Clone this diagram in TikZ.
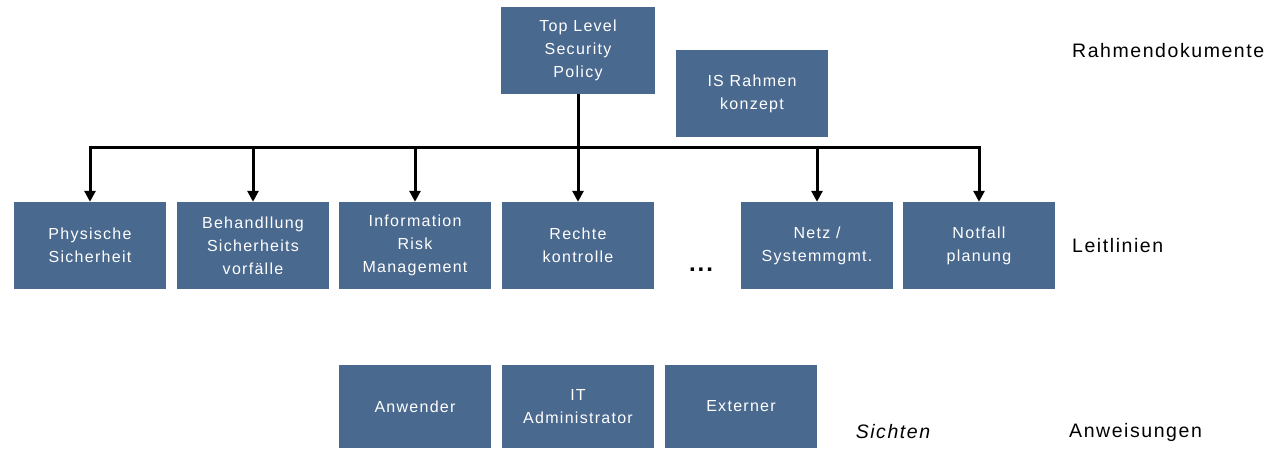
\documentclass[tikz,border=0pt]{standalone}
\usepackage{fontspec}
\setmainfont{Liberation Sans}[LetterSpace=8.0]
\usetikzlibrary{arrows.meta}

\definecolor{docbox}{rgb}{0.290,0.412,0.561}

\tikzset{
  docnode/.style={fill=docbox,text=white,minimum width=152pt,minimum height=87pt,
    inner sep=0pt,align=center,font=\fontsize{16}{23}\selectfont},
  levellabel/.style={anchor=west,inner sep=0pt,font=\fontsize{19.5}{23}\selectfont},
  busline/.style={line width=3pt,line cap=rect},
  busarrow/.style={line width=3pt,-{Triangle[length=11pt,width=11pt]}}
}

\begin{document}
\begin{tikzpicture}[x=1pt,y=-1pt]
\useasboundingbox (0,0) rectangle (1287,448);
% Rahmendokumente
\node[docnode,minimum width=154pt] (tlsp) at (578,50) {Top Level\\Security\\Policy};
\node[docnode] (isrk) at (752,93.5) {IS Rahmen\\konzept};
% Leitlinien
\node[docnode] (phys) at (90,245.5) {Physische\\Sicherheit};
\node[docnode] (behs) at (253,245.5) {Behandllung\\Sicherheits\\vorf\"alle};
\node[docnode] (irm) at (415,245.5) {Information\\Risk\\Management};
\node[docnode] (rkon) at (578,245.5) {Rechte\\kontrolle};
\node[inner sep=0pt,font=\fontsize{24}{24}\selectfont\bfseries] (more) at (701,270) {...};
\node[docnode] (netz) at (817,245.5) {Netz /\\Systemmgmt.};
\node[docnode] (notf) at (979,245.5) {Notfall\\planung};
% Anweisungen
\node[docnode,minimum height=83pt] (anw) at (415,406.5) {Anwender};
\node[docnode,minimum height=83pt] (itad) at (578,406.5) {IT\\Administrator};
\node[docnode,minimum height=83pt] (ext) at (741,406.5) {Externer};
\node[inner sep=0pt,font=\fontsize{19.5}{23}\selectfont\itshape] (sicht) at (893,432) {Sichten};
% Ebenen
\node[levellabel] (lrahmen) at (1072,51) {Rahmendokumente};
\node[levellabel] (lleit) at (1072,246) {Leitlinien};
\node[levellabel] (lanw) at (1069,432) {Anweisungen};
% Verbindungen
\coordinate (bus) at (0,147);
\draw[busline] (phys.north |- bus) -- (notf.north |- bus);
\draw[busarrow] (tlsp.south) -- (rkon.north);
\foreach \n in {phys,behs,irm,netz,notf}
  \draw[busarrow] (\n.north |- bus) -- (\n.north);
\end{tikzpicture}
\end{document}
